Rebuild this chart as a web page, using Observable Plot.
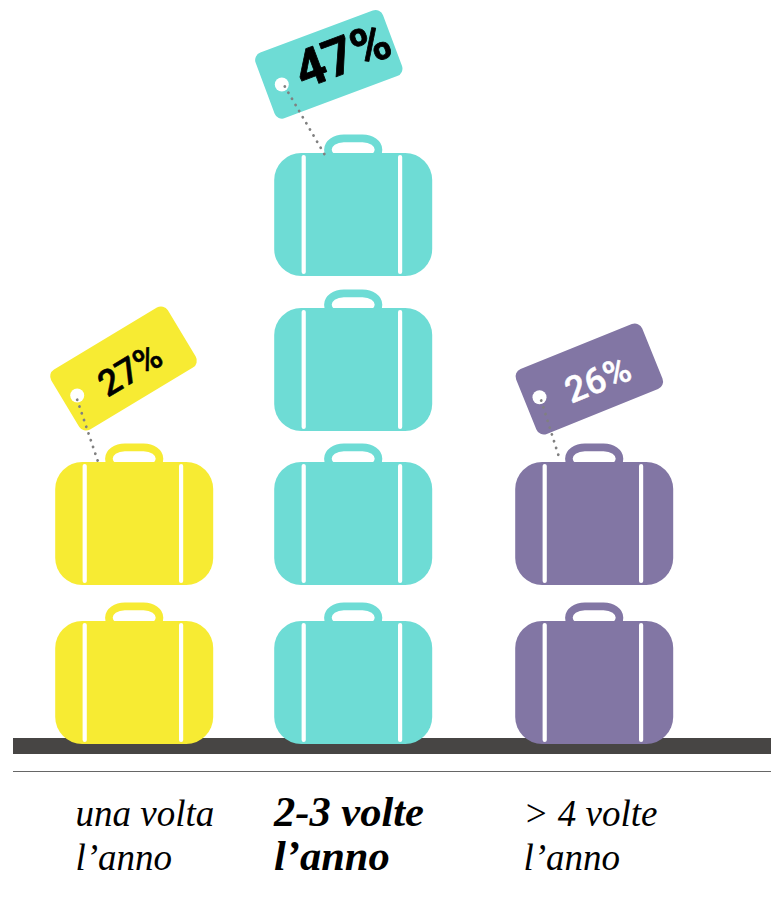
<!DOCTYPE html>
<html lang="it">
<head>
<meta charset="utf-8">
<style>html,body{margin:0;padding:0;background:#fff}svg{display:block}</style>
<script src="https://cdn.jsdelivr.net/npm/d3@7"></script>
<script src="https://cdn.jsdelivr.net/npm/@observablehq/plot@0.6"></script>
</head>
<body>
<script>
// Data
const categories = ["una volta l’anno", "2-3 volte l’anno", "> 4 volte l’anno"];
const percents = [27, 47, 26];
const suitcaseCounts = [2, 4, 2];
const captionFirstLines = ["una volta", "2-3 volte", "> 4 volte"];
const captionSecondLine = "l’anno";
const highlighted = "2-3 volte l’anno";
const colors = ["#F7EB33", "#6EDCD5", "#8276A4"];
const labelInks = ["#000", "#000", "#fff"];

// Layout (pixels on identity scales)
const centers = [134.2, 353.2, 594.2];
const levelTops = [621, 462, 308, 153];
const bodyW = 158, bodyH = 123;
const tagW = 136, tagH = 70;
const tagCX = [123.5, 328.8, 589.3];
const tagCY = [368.5, 64.3, 379];
const tagAngle = [-31, -20.5, -22];
const holeX = [76.7, 281.3, 539];
const holeY = [395, 84, 396.7];
const stringStartX = [76.7, 284.3, 540.7];
const stringStartY = [399.3, 86, 400];
const stringEndX = [97.7, 325.7, 559.3];
const stringEndY = [461.7, 156.7, 459];
const labelX = [130, 342.5, 597.7];
const labelY = [370, 56, 380];
const labelSize = [36, 52, 36];
const captionX = [75, 273.5, 523];

const tags = categories.map((category, i) => ({
  category, cx: tagCX[i], cy: tagCY[i], angle: tagAngle[i], hx: holeX[i], hy: holeY[i],
  sx: stringStartX[i], sy: stringStartY[i],
  ex: stringEndX[i], ey: stringEndY[i], lx: labelX[i], ly: labelY[i], size: labelSize[i],
  ink: labelInks[i], label: `${percents[i]}%`
}));
const cases = categories.flatMap((category, i) =>
  d3.range(suitcaseCounts[i]).map(l => ({category, cx: centers[i], top: levelTops[l]})));
const captions = categories.flatMap((category, i) => [
  {category, text: captionFirstLines[i], x: captionX[i], y: 825},
  {category, text: captionSecondLine, x: captionX[i], y: 869.6}
]);

const rotateTags = (index, scales, values, dims, ctx, next) => {
  const g = next(index, scales, values, dims, ctx);
  d3.select(g).selectAll("rect").attr("transform", i =>
    `rotate(${tags[i].angle} ${scales.x(tags[i].cx)} ${scales.y(tags[i].cy)})`);
  return g;
};
const labelMark = d => Plot.text([d], {
  x: "lx", y: "ly", text: "label", rotate: "angle", fontSize: d.size, fontWeight: d.size > 40 ? 700 : 500,
  fontFamily: "Roboto, 'Liberation Sans', sans-serif",
  fill: d.ink, stroke: d.ink, strokeWidth: d.size > 40 ? 0.8 : 0.5
});
const captionMark = (data, weight, size) => Plot.text(data, {
  x: "x", y: "y", text: "text", textAnchor: "start", lineAnchor: "bottom",
  fontFamily: "'Liberation Serif', 'Times New Roman', serif", fontStyle: "italic",
  fontWeight: weight, fontSize: size, fill: "#000", dy: 0
});

const chart = Plot.plot({
  width: 776, height: 899, margin: 0,
  x: {domain: [0, 776], range: [0, 776], axis: null},
  y: {domain: [0, 899], range: [0, 899], axis: null},
  color: {domain: categories, range: colors},
  style: {background: "#fff"},
  marks: [
    Plot.rect([0], {x1: 13, x2: 771, y1: 738, y2: 754, fill: "#474544", inset: 0}),
    Plot.ruleY([0], {x1: 13, x2: 771, y: 771, stroke: "#666", strokeWidth: 1.2}),
    // handles
    Plot.rect(cases, {
      x1: d => d.cx - 25.3, x2: d => d.cx + 25.3, y1: d => d.top - 14.6, y2: d => d.top + 8,
      stroke: "category", strokeWidth: 7.6, fill: "none", rx: 16
    }),
    // bodies
    Plot.rect(cases, {
      x1: d => d.cx - bodyW / 2, x2: d => d.cx + bodyW / 2, y1: "top", y2: d => d.top + bodyH,
      fill: "category", rx: 27
    }),
    // straps
    Plot.ruleX(cases, {x: d => d.cx - 50, y1: d => d.top + 4, y2: d => d.top + 119, stroke: "#fff", strokeWidth: 4.2, strokeLinecap: "round"}),
    Plot.ruleX(cases, {x: d => d.cx + 46.4, y1: d => d.top + 4, y2: d => d.top + 119, stroke: "#fff", strokeWidth: 4.2, strokeLinecap: "round"}),
    // tags
    Plot.rect(tags, {
      x1: d => d.cx - tagW / 2, x2: d => d.cx + tagW / 2, y1: d => d.cy - tagH / 2, y2: d => d.cy + tagH / 2,
      fill: "category", rx: 8, render: rotateTags
    }),
    Plot.dot(tags, {x: "hx", y: "hy", r: 7, fill: "#fff"}),
    Plot.link(tags, {
      x1: "sx", y1: "sy", x2: "ex", y2: "ey", stroke: "#808080", strokeWidth: 2.8,
      strokeDasharray: "0.1 7", strokeLinecap: "round", markerEnd: "none"
    }),
    ...tags.map(labelMark),
    // captions
    captionMark(captions.filter(d => d.category !== highlighted), 400, 37),
    captionMark(captions.filter(d => d.category === highlighted), 700, 42.5)
  ]
});
document.body.append(chart);
</script>
</body>
</html>
